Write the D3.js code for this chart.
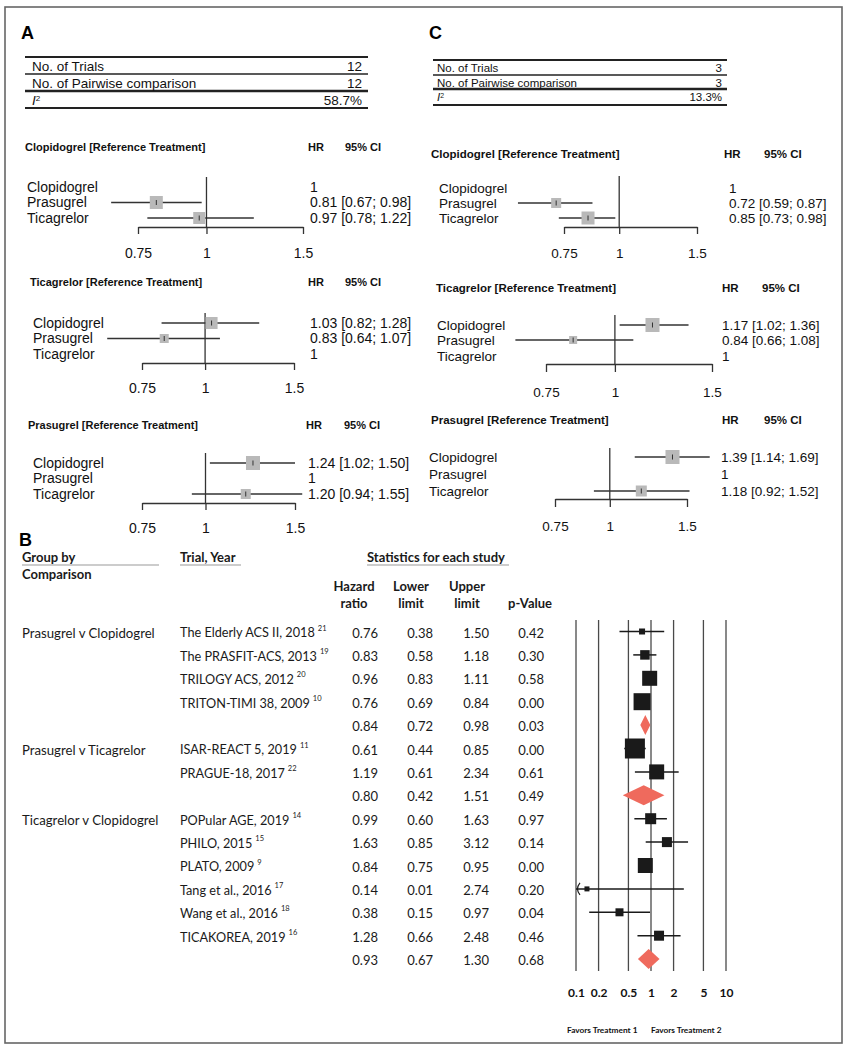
<!DOCTYPE html>
<html><head><meta charset="utf-8">
<script src="https://cdn.jsdelivr.net/npm/d3@7"></script>
<style>body{margin:0;background:#fff}svg{display:block}</style>
</head><body>
<svg id="c" width="848" height="1050"></svg>
<script>
// ---------------- DATA ----------------
const treatments = ["Clopidogrel", "Prasugrel", "Ticagrelor"];
const refTreatments = ["Clopidogrel", "Ticagrelor", "Prasugrel"];
const statsLabels = ["No. of Trials", "No. of Pairwise comparison", "I"];
const statsA = ["12", "12", "58.7%"];
const statsC = ["3", "3", "13.3%"];

// Panel A (network estimates), one row per reference treatment
const hrA = [[1, 0.81, 0.97], [1.03, 0.83, 1], [1.24, 1, 1.20]];
const loA = [[null, 0.67, 0.78], [0.82, 0.64, null], [1.02, null, 0.94]];
const hiA = [[null, 0.98, 1.22], [1.28, 1.07, null], [1.50, null, 1.55]];
const wA  = [[0, 13, 12], [12, 9, 0], [14, 0, 10]];

// Panel C
const hrC = [[1, 0.72, 0.85], [1.17, 0.84, 1], [1.39, 1, 1.18]];
const loC = [[null, 0.59, 0.73], [1.02, 0.66, null], [1.14, null, 0.92]];
const hiC = [[null, 0.87, 0.98], [1.36, 1.08, null], [1.69, null, 1.52]];
const wC  = [[0, 10, 13], [14, 8, 0], [14, 0, 11]];

const netTicks = [0.75, 1, 1.5];
const netTickLabels = ["0.75", "1", "1.5"];

// Panel B (pairwise meta-analysis)
const bGroups = ["Prasugrel v Clopidogrel", "Prasugrel v Ticagrelor", "Ticagrelor v Clopidogrel"];
const bGroupIdx = [0,0,0,0,0,1,1,1,2,2,2,2,2,2,2];
const bTrials = ["The Elderly ACS II, 2018", "The PRASFIT-ACS, 2013", "TRILOGY ACS, 2012", "TRITON-TIMI 38, 2009", "",
  "ISAR-REACT 5, 2019", "PRAGUE-18, 2017", "",
  "POPular AGE, 2019", "PHILO, 2015", "PLATO, 2009", "Tang et al., 2016", "Wang et al., 2016", "TICAKOREA, 2019", ""];
const bRefs = ["21","19","20","10","","11","22","","14","15","9","17","18","16",""];
const bHR    = [0.76, 0.83, 0.96, 0.76, 0.84, 0.61, 1.19, 0.80, 0.99, 1.63, 0.84, 0.14, 0.38, 1.28, 0.93];
const bLower = [0.38, 0.58, 0.83, 0.69, 0.72, 0.44, 0.61, 0.42, 0.60, 0.85, 0.75, 0.01, 0.15, 0.66, 0.67];
const bUpper = [1.50, 1.18, 1.11, 0.84, 0.98, 0.85, 2.34, 1.51, 1.63, 3.12, 0.95, 2.74, 0.97, 2.48, 1.30];
const bP     = [0.42, 0.30, 0.58, 0.00, 0.03, 0.00, 0.61, 0.49, 0.97, 0.14, 0.00, 0.20, 0.04, 0.46, 0.68];
const bPooled = [false,false,false,false,true,false,false,true,false,false,false,false,false,false,true];
const bWeight = [6, 9.5, 15, 17, 0, 20, 15, 0, 11, 10, 15, 5, 8, 10, 0];
const bTicks = [0.1, 0.2, 0.5, 1, 2, 5, 10];
const bTickLabels = ["0.1", "0.2", "0.5", "1", "2", "5", "10"];
const bColHeaders = [["Hazard", "ratio"], ["Lower", "limit"], ["Upper", "limit"], ["", "p-Value"]];

// ---------------- DRAWING ----------------
const svg = d3.select("#c");
const ARIAL = "'Liberation Sans', Arial, sans-serif";
const HUM = "Lato, 'Open Sans', sans-serif";
const f2 = d3.format(".2f");

svg.append("rect").attr("x", 5).attr("y", 7).attr("width", 837).attr("height", 1036)
  .attr("fill", "none").attr("stroke", "#666").attr("stroke-width", 1.6);

function panelLetter(x, y, t) {
  svg.append("text").attr("x", x).attr("y", y).attr("dy", "0.35em")
    .attr("font-family", ARIAL).attr("font-weight", "bold").attr("font-size", 18).text(t);
}
panelLetter(21, 33, "A");
panelLetter(429, 33, "C");
panelLetter(19, 540, "B");

function statsTable(T, vals) {
  const g = svg.append("g").attr("font-family", ARIAL).attr("font-size", T.fs).attr("fill", "#111");
  T.lines.forEach((y, i) => {
    g.append("line").attr("x1", T.x0).attr("x2", T.x1).attr("y1", y).attr("y2", y)
      .attr("stroke", "#222").attr("stroke-width", T.lw[i]);
  });
  statsLabels.forEach((lab, i) => {
    const t = g.append("text").attr("x", T.tx).attr("y", T.rows[i]).attr("dy", "0.35em");
    if (i === 2) {
      t.append("tspan").attr("font-style", "italic").text(lab);
      t.append("tspan").attr("font-size", T.fs * 0.6).attr("dy", "-0.45em").text("2");
    } else t.text(lab);
    g.append("text").attr("x", T.rx).attr("y", T.rows[i]).attr("dy", "0.35em")
      .attr("text-anchor", "end").text(vals[i]);
  });
}
statsTable({x0: 25, x1: 368, lines: [57, 74, 91, 108], lw: [2, 1.5, 2.5, 2], tx: 32, rx: 362, rows: [66, 83, 100], fs: 13.5}, statsA);
statsTable({x0: 433, x1: 727, lines: [60, 75, 89, 105], lw: [2, 1.5, 2.5, 2], tx: 437, rx: 722, rows: [68, 83, 97], fs: 11.5}, statsC);

const layoutA = [
  {titleX: 25, titleY: 147, hrX: 308, ciX: 345, labelX: 27, rows: [187, 202.5, 218], vTop: 177, axisY: 227, tickEnd: 234, tickLabY: 253, x0: 138, x1: 303, valX: 310, fs: 14, tfs: 11},
  {titleX: 30, titleY: 282, hrX: 308, ciX: 345, labelX: 33, rows: [323, 338.5, 354], vTop: 313, axisY: 363, tickEnd: 370, tickLabY: 388, x0: 142, x1: 294, valX: 310, fs: 14, tfs: 11},
  {titleX: 28, titleY: 425, hrX: 306, ciX: 344, labelX: 33, rows: [463, 478.5, 494], vTop: 453, axisY: 503, tickEnd: 510, tickLabY: 528, x0: 142, x1: 295, valX: 308, fs: 14, tfs: 11}
];
const layoutC = [
  {titleX: 431, titleY: 154, hrX: 724, ciX: 764, labelX: 439, rows: [188, 203, 218], vTop: 176, axisY: 227, tickEnd: 234, tickLabY: 253, x0: 564, x1: 697, valX: 729, fs: 13.5, tfs: 11.5},
  {titleX: 436, titleY: 288, hrX: 722, ciX: 762, labelX: 437, rows: [325, 340, 356], vTop: 315, axisY: 364, tickEnd: 372, tickLabY: 392, x0: 546, x1: 712, valX: 722, fs: 13.5, tfs: 11.5},
  {titleX: 431, titleY: 420, hrX: 722, ciX: 764, labelX: 429, rows: [457, 474, 491], vTop: 448, axisY: 499, tickEnd: 507, tickLabY: 526, x0: 555, x1: 687, valX: 721, fs: 13.5, tfs: 11.5}
];

function drawNet(L, ref, hr, lo, hi, w) {
  const g = svg.append("g").attr("font-family", ARIAL).attr("fill", "#111");
  const x = d3.scaleLog().domain([0.75, 1.5]).range([L.x0, L.x1]);
  g.append("text").attr("x", L.titleX).attr("y", L.titleY).attr("dy", "0.35em")
    .attr("font-weight", "bold").attr("font-size", L.tfs).text(ref + " [Reference Treatment]");
  g.append("text").attr("x", L.hrX).attr("y", L.titleY).attr("dy", "0.35em")
    .attr("font-weight", "bold").attr("font-size", L.tfs).text("HR");
  g.append("text").attr("x", L.ciX).attr("y", L.titleY).attr("dy", "0.35em")
    .attr("font-weight", "bold").attr("font-size", L.tfs).text("95% CI");

  const tickSize = L.tickEnd - L.axisY;
  const ax = d3.axisBottom(x).tickValues(netTicks).tickFormat((d, i) => netTickLabels[i])
    .tickSize(tickSize).tickSizeOuter(0).tickPadding(L.tickLabY - L.axisY - tickSize - 0.35 * L.fs);
  const ag = g.append("g").attr("transform", `translate(0,${L.axisY})`).call(ax);
  ag.select(".domain").attr("stroke", "#333").attr("stroke-width", 1.3);
  ag.selectAll(".tick line").attr("stroke", "#333").attr("stroke-width", 1.3);
  ag.selectAll(".tick text").attr("font-family", ARIAL).attr("font-size", L.fs).attr("fill", "#111");

  g.append("line").attr("x1", x(1)).attr("x2", x(1)).attr("y1", L.vTop).attr("y2", L.axisY)
    .attr("stroke", "#333").attr("stroke-width", 1.3);

  treatments.forEach((t, i) => {
    const y = L.rows[i];
    g.append("text").attr("x", L.labelX).attr("y", y).attr("dy", "0.35em")
      .attr("font-size", L.fs).text(t);
    if (lo[i] == null) {
      g.append("text").attr("x", L.valX).attr("y", y).attr("dy", "0.35em").attr("font-size", L.fs).text("1");
      return;
    }
    g.append("line").attr("x1", x(lo[i])).attr("x2", x(hi[i])).attr("y1", y).attr("y2", y)
      .attr("stroke", "#333").attr("stroke-width", 1.3);
    g.append("rect").attr("x", x(hr[i]) - w[i] / 2).attr("y", y - w[i] / 2)
      .attr("width", w[i]).attr("height", w[i]).attr("fill", "#b9b9b9");
    g.append("line").attr("x1", x(hr[i])).attr("x2", x(hr[i])).attr("y1", y - 2.5).attr("y2", y + 2.5)
      .attr("stroke", "#333").attr("stroke-width", 1);
    g.append("text").attr("x", L.valX).attr("y", y).attr("dy", "0.35em").attr("font-size", L.fs)
      .attr("xml:space", "preserve")
      .text(`${f2(hr[i])} [${f2(lo[i])}; ${f2(hi[i])}]`);
  });
}
refTreatments.forEach((r, k) => drawNet(layoutA[k], r, hrA[k], loA[k], hiA[k], wA[k]));
refTreatments.forEach((r, k) => drawNet(layoutC[k], r, hrC[k], loC[k], hiC[k], wC[k]));

// ---------------- Panel B ----------------
const gb = svg.append("g").attr("font-family", HUM).attr("fill", "#1a1a1a");
const hdrY1 = 557, hdrY2 = 574;
function hdr(x, y, t, anchor) {
  gb.append("text").attr("x", x).attr("y", y).attr("dy", "0.35em").attr("font-weight", "bold")
    .attr("font-size", 13).attr("text-anchor", anchor || "start").text(t);
}
hdr(22, hdrY1, "Group by"); hdr(22, hdrY2, "Comparison");
hdr(180, hdrY1, "Trial, Year");
hdr(367, hdrY1, "Statistics for each study");
[[22, 159], [180, 241], [367, 509]].forEach(([a, b]) => {
  gb.append("line").attr("x1", a).attr("x2", b).attr("y1", 565).attr("y2", 565)
    .attr("stroke", "#999").attr("stroke-width", 1);
});
const colRight = [378, 433, 489, 544];
const colCenter = [354, 411, 467, 530];
bColHeaders.forEach((h, j) => {
  hdr(colCenter[j], 586, h[0], "middle");
  hdr(colCenter[j], 603, h[1], "middle");
});

const rowY = i => 633 + i * 23.4;
bTrials.forEach((t, i) => {
  const y = rowY(i);
  if (i === 0 || bGroupIdx[i] !== bGroupIdx[i - 1]) {
    gb.append("text").attr("x", 22).attr("y", y).attr("dy", "0.35em").attr("font-size", 13.2)
      .text(bGroups[bGroupIdx[i]]);
  }
  if (t) {
    const tt = gb.append("text").attr("x", 180).attr("y", y).attr("dy", "0.35em").attr("font-size", 12.7);
    tt.append("tspan").text(t);
    tt.append("tspan").attr("font-size", 7.5).attr("dx", 3).attr("dy", "-0.9em").text(bRefs[i]);
  }
  [f2(bHR[i]), f2(bLower[i]), f2(bUpper[i]), f2(bP[i])].forEach((v, j) => {
    gb.append("text").attr("x", colRight[j]).attr("y", y).attr("dy", "0.35em").attr("font-size", 13)
      .attr("text-anchor", "end").text(v);
  });
});

// forest plot
const xb = d3.scaleLog().domain([0.1, 10]).range([576, 726]);
const gf = svg.append("g");
gf.selectAll("line.grid").data(bTicks).join("line").attr("class", "grid")
  .attr("x1", d => xb(d)).attr("x2", d => xb(d)).attr("y1", 620).attr("y2", 971)
  .attr("stroke", "#4a4a4a").attr("stroke-width", 1.3);

bHR.forEach((hr, i) => {
  const y = rowY(i) - 1.5;
  if (bPooled[i]) {
    const xl = xb(bLower[i]), xr = xb(bUpper[i]), xc = xb(hr);
    gf.append("path").attr("d", `M${xl},${y} L${xc},${y - 10} L${xr},${y} L${xc},${y + 10} Z`)
      .attr("fill", "#ef6a5d");
    return;
  }
  const lo = Math.max(bLower[i], 0.1);
  gf.append("line").attr("x1", xb(lo)).attr("x2", xb(bUpper[i])).attr("y1", y).attr("y2", y)
    .attr("stroke", "#1a1a1a").attr("stroke-width", 1.5);
  if (bLower[i] < 0.1) {
    const xa = xb(0.1);
    gf.append("path").attr("d", `M${xa + 4},${y - 6} Q${xa - 1},${y} ${xa + 4},${y + 6}`)
      .attr("fill", "none").attr("stroke", "#1a1a1a").attr("stroke-width", 1.2);
  }
  const s = bWeight[i];
  gf.append("rect").attr("x", xb(hr) - s / 2).attr("y", y - s / 2).attr("width", s).attr("height", s)
    .attr("fill", "#1a1a1a");
});

const bax = d3.axisBottom(xb).tickValues(bTicks).tickFormat((d, i) => bTickLabels[i]).tickSize(0).tickPadding(0);
const bag = gf.append("g").attr("transform", "translate(0,988)").call(bax);
bag.select(".domain").remove();
bag.selectAll(".tick text").attr("font-family", HUM).attr("font-weight", "bold").attr("font-size", 12).attr("fill", "#111");

gf.append("text").attr("x", 567).attr("y", 1030).attr("dy", "0.35em").attr("font-family", HUM)
  .attr("font-weight", "bold").attr("font-size", 8.3).attr("fill", "#111").text("Favors Treatment 1");
gf.append("text").attr("x", 651).attr("y", 1030).attr("dy", "0.35em").attr("font-family", HUM)
  .attr("font-weight", "bold").attr("font-size", 8.3).attr("fill", "#111").text("Favors Treatment 2");
</script>
</body></html>
